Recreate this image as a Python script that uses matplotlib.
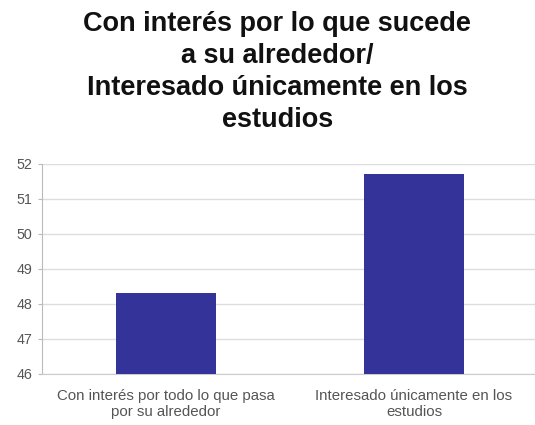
import matplotlib
matplotlib.use("Agg")
import matplotlib.pyplot as plt

categories = ["Con interés por todo lo que pasa\npor su alrededor",
              "Interesado únicamente en los\nestudios"]
values = [48.3, 51.7]
yticks = [46, 47, 48, 49, 50, 51, 52]
title = "Con interés por lo que sucede\na su alrededor/\nInteresado únicamente en los\nestudios"

plt.rcParams['font.family'] = ['Liberation Sans', 'DejaVu Sans']

fig = plt.figure(figsize=(5.35, 4.25), dpi=100)
ax = fig.add_axes([0.0785, 0.12, 0.927, 0.495])

x = range(len(categories))
ax.bar(x, values, width=0.4, color="#333399", zorder=3)
ax.set_ylim(46, 52)
ax.set_xlim(-0.5, 1.5)
ax.set_yticks(yticks)
ax.set_xticks(list(x))
ax.set_xticklabels(categories, fontsize=10.8, color="#555555", linespacing=1.2)
ax.tick_params(axis="y", labelsize=10.3, labelcolor="#555555", color="#bbbbbb", length=3, pad=4)
ax.tick_params(axis="x", length=0, pad=11)
ax.grid(axis="y", color="#dddddd", linewidth=1, zorder=0)
for s in ["top", "right"]:
    ax.spines[s].set_visible(False)
ax.spines["left"].set_color("#bbbbbb")
ax.spines["bottom"].set_color("#cccccc")

fig.text(0.518, 0.975, title, ha="center", va="top", fontsize=19.5, fontweight="bold",
         linespacing=1.31, color="#111111")

fig.savefig("out.png", dpi=100)
